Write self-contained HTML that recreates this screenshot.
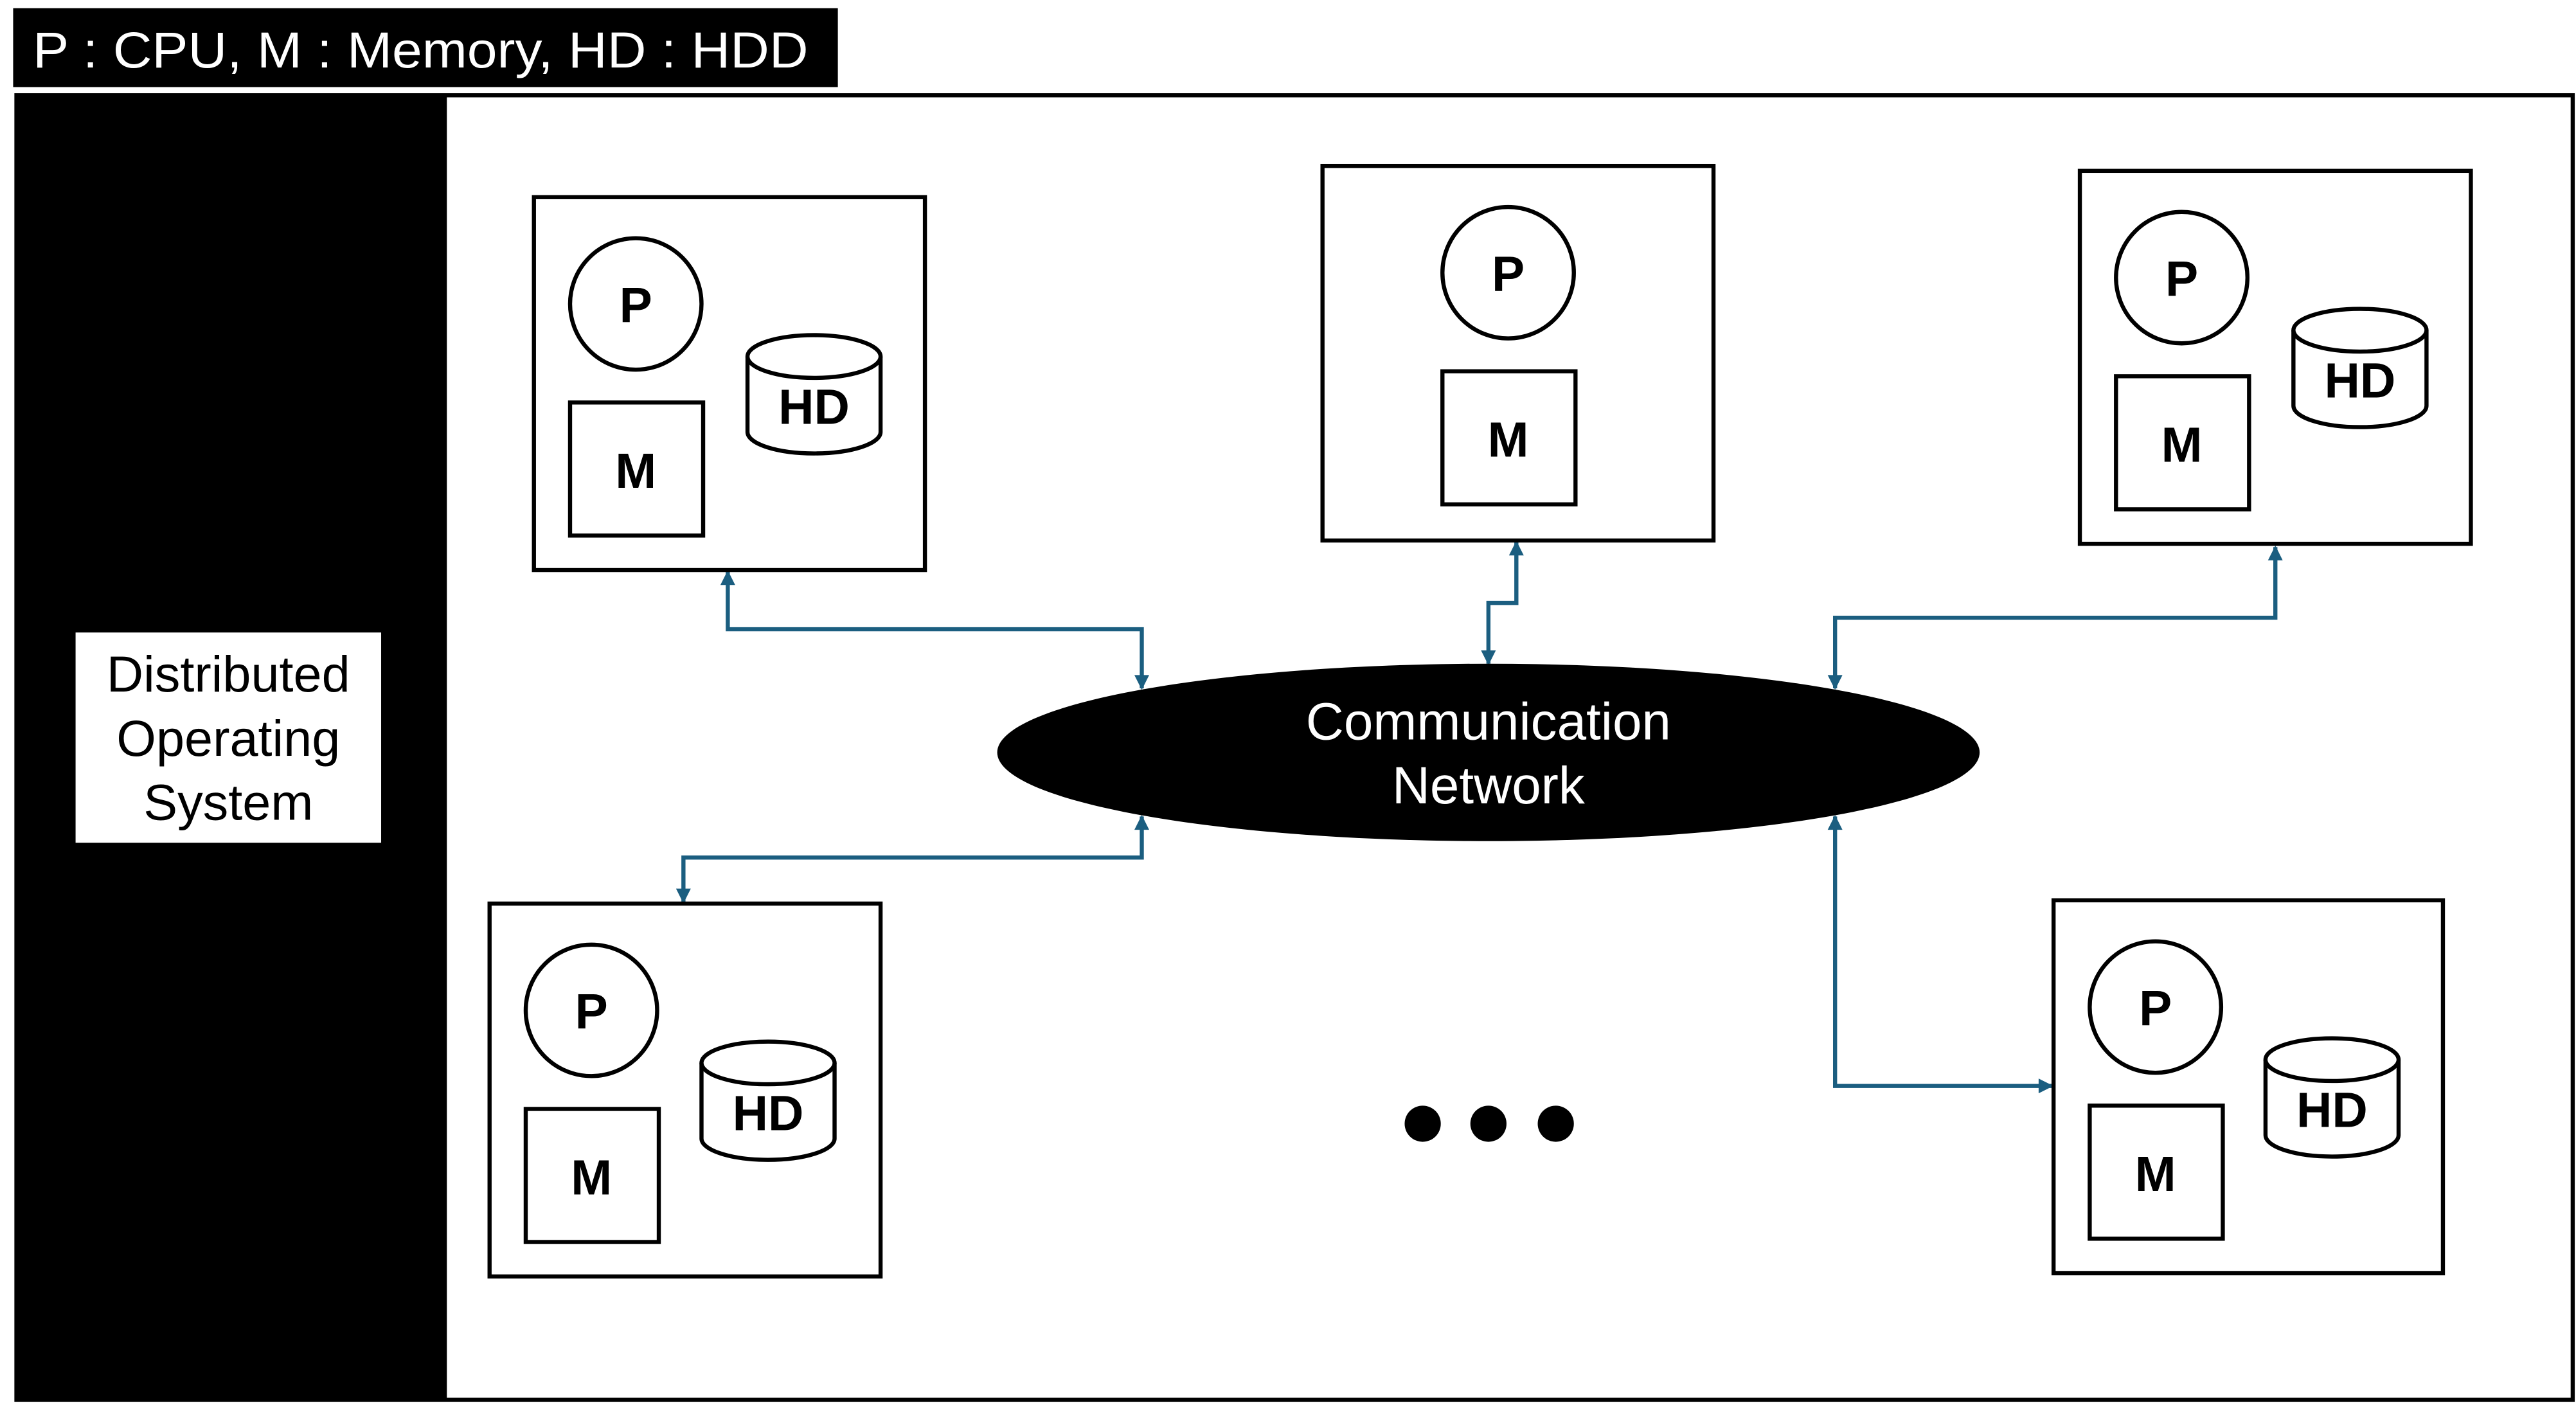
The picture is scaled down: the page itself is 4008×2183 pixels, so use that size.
<!DOCTYPE html>
<html><head><meta charset="utf-8"><style>
html,body{margin:0;padding:0;background:#fff;}
svg{display:block;}
text{font-family:"Liberation Sans",sans-serif;}
</style></head><body>
<svg width="4008" height="2183" viewBox="0 0 1568 854" preserveAspectRatio="none" xmlns="http://www.w3.org/2000/svg">
<defs>
<marker id="a" viewBox="0 0 10 10" refX="9" refY="5" markerWidth="10" markerHeight="9" orient="auto-start-reverse" markerUnits="userSpaceOnUse"><path d="M0,0L10,5L0,10z" fill="#1b5e80"/></marker>
<g id="pm">
<circle cx="0" cy="0" r="40" fill="#fff" stroke="#000" stroke-width="2.5"/>
<text x="0" y="11" font-size="30" font-weight="bold" text-anchor="middle">P</text>
<rect x="-40" y="60" width="81" height="81" fill="#fff" stroke="#000" stroke-width="2.5"/>
<text x="0" y="112" font-size="30" font-weight="bold" text-anchor="middle">M</text>
</g>
<g id="hd">
<path d="M0,13 L0,59 A40.5,13 0 0 0 81,59 L81,13" fill="#fff" stroke="#000" stroke-width="2.5"/>
<ellipse cx="40.5" cy="13" rx="40.5" ry="13" fill="#fff" stroke="#000" stroke-width="2.5"/>
<text x="40.5" y="54" font-size="30" font-weight="bold" text-anchor="middle">HD</text>
</g>
</defs>
<rect x="8" y="5" width="502" height="48" fill="#000"/>
<text x="20" y="41" font-size="31" fill="#fff" textLength="472" lengthAdjust="spacingAndGlyphs">P : CPU, M : Memory, HD : HDD</text>
<rect x="10" y="58" width="1556" height="794" fill="#fff" stroke="#000" stroke-width="2.5"/>
<rect x="10" y="58" width="262" height="795" fill="#000"/>
<rect x="46" y="385" width="186" height="128" fill="#fff"/>
<text font-size="31" text-anchor="middle"><tspan x="139" y="421">Distributed</tspan><tspan x="139" y="460">Operating</tspan><tspan x="139" y="499">System</tspan></text>

<g fill="none" stroke="#1b5e80" stroke-width="2.5">
<polyline points="443,348 443,383 695,383 695,419" marker-start="url(#a)" marker-end="url(#a)"/>
<polyline points="923,330 923,367 906,367 906,404" marker-start="url(#a)" marker-end="url(#a)"/>
<polyline points="1385,333 1385,376 1117,376 1117,419" marker-start="url(#a)" marker-end="url(#a)"/>
<polyline points="416,549 416,522 695,522 695,497" marker-start="url(#a)" marker-end="url(#a)"/>
<polyline points="1117,497 1117,661 1249,661" marker-start="url(#a)" marker-end="url(#a)"/>
</g>

<ellipse cx="906" cy="458" rx="299" ry="54" fill="#000"/>
<text font-size="32" fill="#fff" text-anchor="middle"><tspan x="906" y="450">Communication</tspan><tspan x="906" y="489">Network</tspan></text>

<rect x="325" y="120" width="238" height="227" fill="#fff" stroke="#000" stroke-width="2.5"/>
<use href="#pm" x="387" y="185"/><use href="#hd" x="455" y="204"/>
<rect x="805" y="101" width="238" height="228" fill="#fff" stroke="#000" stroke-width="2.5"/>
<use href="#pm" x="918" y="166"/>
<rect x="1266" y="104" width="238" height="227" fill="#fff" stroke="#000" stroke-width="2.5"/>
<use href="#pm" x="1328" y="169"/><use href="#hd" x="1396" y="188"/>
<rect x="298" y="550" width="238" height="227" fill="#fff" stroke="#000" stroke-width="2.5"/>
<use href="#pm" x="360" y="615"/><use href="#hd" x="427" y="634"/>
<rect x="1250" y="548" width="237" height="227" fill="#fff" stroke="#000" stroke-width="2.5"/>
<use href="#pm" x="1312" y="613"/><use href="#hd" x="1379" y="632"/>

<ellipse cx="866" cy="684" rx="11" ry="11" fill="#000"/>
<ellipse cx="906" cy="684" rx="11" ry="11" fill="#000"/>
<ellipse cx="947" cy="684" rx="11" ry="11" fill="#000"/>
</svg>
</body></html>
